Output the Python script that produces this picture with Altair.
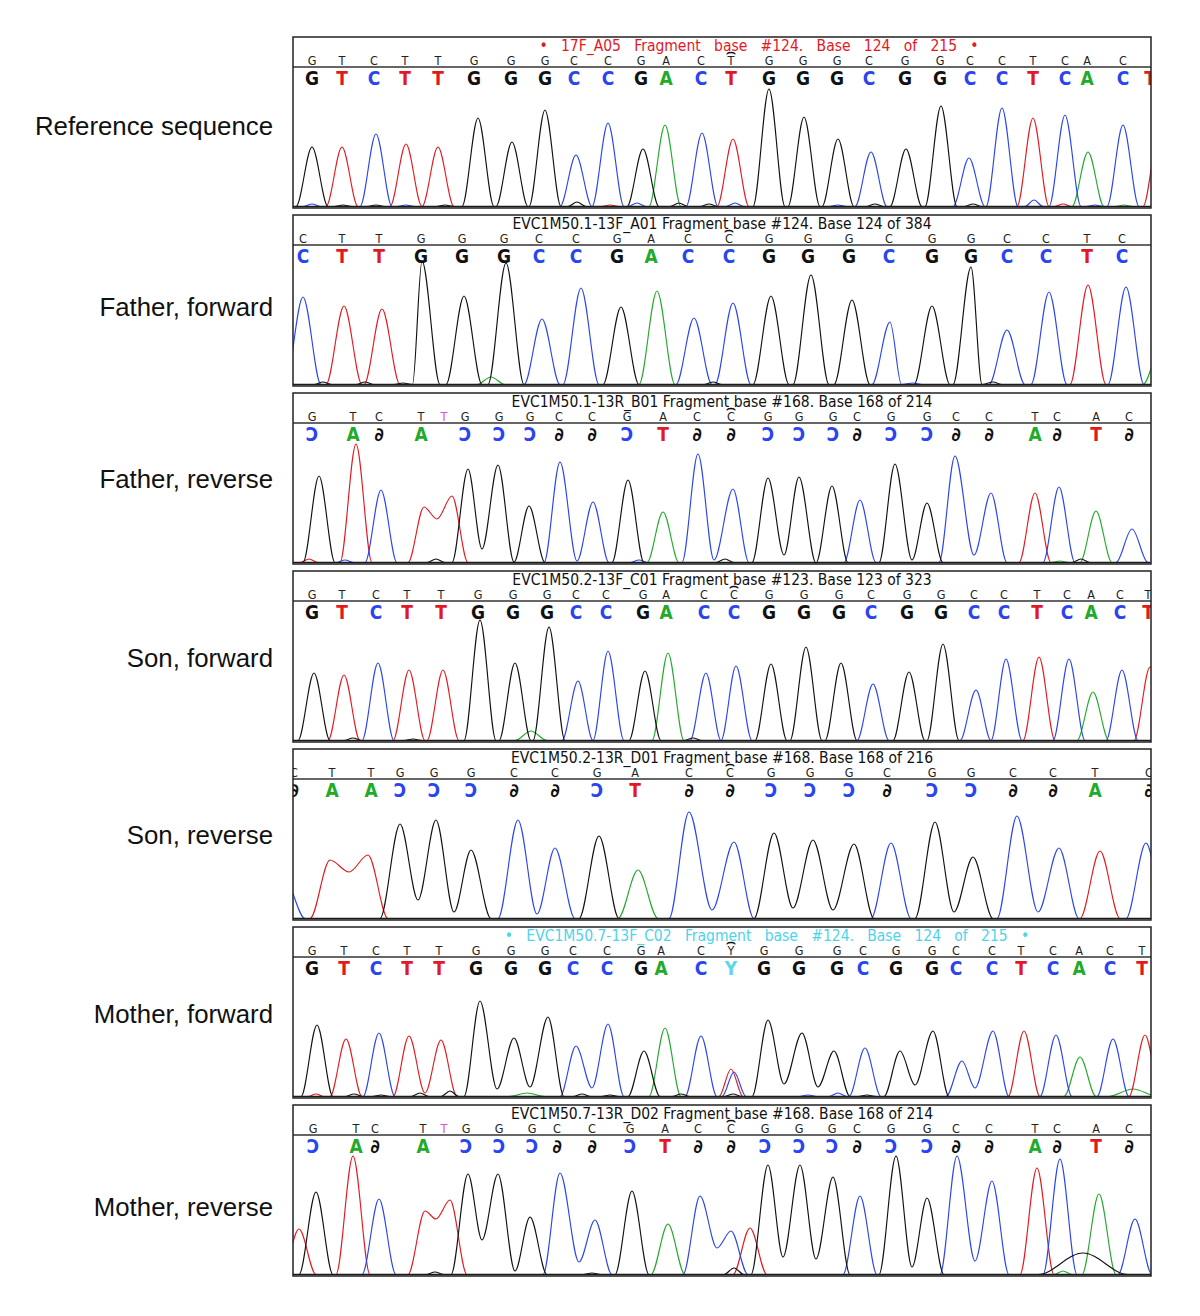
import altair as alt
import pandas as pd

PANEL_W = 858
PANEL_H = 171
LABEL_W = 284
BASE = 1.5

COLORS = {"G": "#111111", "T": "#e3191f", "C": "#2a45ee", "A": "#22aa2a", "Y": "#5cd6ec"}
DRAW_ORDER = "ATCG"
SMALL_COLOR = "#222222"
EDIT_COLOR = "#e648e6"
MIRROR = {"C": "\u0186", "G": "\u2202", "A": "A", "T": "T"}

TXT_FONT = "DejaVu Sans Condensed, Liberation Sans Narrow, DejaVu Sans, sans-serif"
LBL_FONT = "Liberation Sans, Arial, Helvetica, sans-serif"

LABELS = ["Reference sequence", "Father, forward", "Father, reverse", "Son, forward",
          "Son, reverse", "Mother, forward", "Mother, reverse"]
LABEL_Y = [98, 101, 95, 96, 95, 96, 111]

TITLES = [
    "\u2022   17F_A05   Fragment   base   #124.   Base   124   of   215   \u2022",
    "EVC1M50.1-13F_A01 Fragment base #124. Base 124 of 384",
    "EVC1M50.1-13R_B01 Fragment base #168. Base 168 of 214",
    "EVC1M50.2-13F_C01 Fragment base #123. Base 123 of 323",
    "EVC1M50.2-13R_D01 Fragment base #168. Base 168 of 216",
    "\u2022   EVC1M50.7-13F_C02   Fragment   base   #124.   Base   124   of   215   \u2022",
    "EVC1M50.7-13R_D02 Fragment base #168. Base 168 of 214",
]
TITLE_X = [466, 429, 429, 429, 429, 474, 429]
TITLE_COLORS = ["#e3191f", "#111111", "#111111", "#111111", "#111111", "#4fd3ea", "#111111"]

# ---------------- base calls ----------------
P1_X = [19, 49, 81, 112, 145, 181, 218, 252, 281, 315, 348, 373, 408, 438, 476, 510, 544, 576, 612, 647, 677, 709, 740, 772, 794, 830, 857]
P1_SMALL = "GTCTTGGGCCGACTGGGCGGCCTCAC-"
P1_BIG = "GTCTTGGGCCGACTGGGCGGCCTCACT"

P2_X = [10, 49, 86, 128, 169, 211, 246, 283, 324, 358, 395, 436, 476, 515, 556, 596, 639, 678, 714, 753, 794, 829]
P2_SMALL = "CTTGGGCCGACCGGGCGGCCTC"
P2_BIG = "CTTGGGCCGACCGGGCGGCCTC"

P3_X = [19, 60, 86, 128, 151, 172, 206, 237, 266, 299, 334, 370, 404, 438, 475, 506, 540, 564, 598, 634, 663, 696, 742, 764, 803, 836]
P3_SMALL = "GTCTtGGGCCGACCGGGCGGCCTCAC"
P3_BIG = "CAGA-CCCGGCTGGCCCGCCGGAGTG"

P4_X = [19, 49, 83, 114, 148, 185, 220, 254, 283, 313, 350, 373, 411, 441, 476, 511, 546, 578, 614, 648, 681, 711, 744, 774, 798, 827, 855]
P4_SMALL = "GTCTTGGGCCGACCGGGCGGCCTCACT"
P4_BIG = "GTCTTGGGCCGACCGGGCGGCCTCACT"

P5_X = [1, 39, 78, 107, 141, 178, 221, 262, 304, 342, 396, 437, 478, 517, 556, 594, 639, 678, 720, 760, 802, 856]
P5_SMALL = "CTTGGGCCGACCGGGCGGCCTC"
P5_BIG = "GAACCCGGCTGGCCCGCCGGAG"

P6_X = [19, 51, 83, 114, 146, 183, 218, 252, 280, 314, 348, 368, 408, 438, 471, 506, 544, 570, 603, 639, 663, 699, 728, 760, 786, 817, 849]
P6_SMALL = "GTCTTGGGCCGACYGGGCGGCCTCACT"
P6_BIG = "GTCTTGGGCCGACYGGGCGGCCTCACT"

P7_X = [20, 63, 82, 130, 151, 173, 206, 239, 264, 299, 337, 372, 405, 438, 472, 506, 539, 564, 598, 634, 663, 696, 742, 764, 803, 836]
P7_SMALL = "GTCTtGGGCCGACCGGGCGGCCTCAC"
P7_BIG = "CAGA-CCCGGCTGGCCCGCCGGAGTG"

CURSOR = [13, 11, 13, 13, 11, 13, 13]

# ---------------- trace peaks: (channel, x, height[, half-width]) ----------------
P1_PEAKS = [("G", 19, 61), ("T", 49, 61), ("C", 83, 74), ("T", 113, 64), ("T", 145, 61),
            ("G", 185, 90), ("G", 219, 66), ("G", 252, 98), ("C", 283, 53), ("C", 315, 85),
            ("G", 350, 59), ("A", 372, 83), ("C", 409, 75), ("T", 440, 69), ("G", 476, 119),
            ("G", 511, 91), ("G", 545, 69), ("C", 578, 56), ("G", 613, 59), ("G", 648, 102),
            ("C", 676, 50), ("C", 709, 100), ("T", 740, 90), ("C", 772, 93), ("A", 795, 56),
            ("C", 830, 83), ("T", 866, 75),
            ("C", 19, 4, 9), ("G", 50, 3, 9), ("G", 83, 3, 9), ("C", 113, 3, 9), ("G", 152, 3, 9),
            ("G", 284, 6, 9), ("T", 317, 3, 9), ("C", 344, 5, 9), ("G", 386, 5, 9), ("G", 416, 4, 9),
            ("C", 442, 5, 9), ("C", 545, 3, 9), ("G", 582, 4, 9), ("G", 680, 4, 9), ("C", 741, 8, 9),
            ("T", 770, 4, 9), ("C", 802, 3, 9), ("A", 831, 3, 9)]
P1_VALLEYS = []

P2_PEAKS = [("C", 10, 89), ("T", 51, 80), ("T", 89, 77), ("G", 129, 125), ("G", 171, 90),
            ("G", 213, 123), ("C", 249, 67), ("C", 288, 98), ("G", 328, 79), ("A", 364, 95),
            ("C", 401, 68), ("C", 440, 83), ("G", 478, 90), ("G", 518, 111), ("G", 559, 86),
            ("C", 597, 64), ("G", 639, 80), ("G", 678, 119), ("C", 714, 56), ("C", 756, 94),
            ("T", 795, 101), ("C", 833, 99), ("A", 868, 40),
            ("A", 198, 9, 14), ("G", 30, 4, 9), ("G", 72, 4, 9), ("G", 110, 3, 9), ("G", 420, 4, 9),
            ("G", 700, 4, 9), ("C", 620, 3, 9)]
P2_VALLEYS = []

P3_PEAKS = [("G", 26, 88), ("T", 63, 120), ("C", 88, 74), ("T", 131, 57), ("T", 159, 68),
            ("G", 175, 95), ("G", 205, 99), ("G", 236, 58), ("C", 267, 102), ("C", 300, 62),
            ("G", 335, 84), ("A", 370, 52), ("C", 405, 110), ("C", 440, 75), ("G", 475, 86),
            ("G", 506, 87), ("G", 539, 78), ("C", 567, 64), ("G", 602, 100), ("G", 634, 61),
            ("C", 662, 108), ("C", 698, 71), ("T", 742, 71), ("C", 766, 77), ("A", 803, 53),
            ("C", 839, 35),
            ("T", 16, 5, 9), ("C", 52, 4, 9), ("G", 143, 5, 9), ("C", 346, 4, 9), ("G", 432, 5, 9),
            ("G", 788, 5, 9), ("A", 767, 3, 9)]
P3_VALLEYS = [("T", 144, 45), ("G", 189, 15), ("G", 221, 2), ("C", 284, 3), ("C", 421, 4),
              ("G", 491, 9), ("G", 523, 1), ("G", 619, 4), ("C", 681, 9)]

P4_PEAKS = [("G", 21, 69), ("T", 51, 67), ("C", 85, 79), ("T", 116, 72), ("T", 150, 72),
            ("G", 187, 122), ("G", 222, 79), ("G", 256, 115), ("C", 285, 61), ("C", 315, 91),
            ("G", 352, 71), ("A", 375, 89), ("C", 413, 69), ("C", 443, 76), ("G", 478, 78),
            ("G", 513, 95), ("G", 548, 79), ("C", 580, 58), ("G", 616, 70), ("G", 650, 98),
            ("C", 683, 52), ("C", 713, 83), ("T", 746, 85), ("C", 776, 83), ("A", 800, 50),
            ("C", 829, 72), ("T", 857, 75),
            ("A", 238, 11, 16), ("G", 60, 4, 9), ("G", 120, 3, 9), ("G", 400, 4, 9)]
P4_VALLEYS = []

P5_PEAKS = [("C", -8, 40), ("T", 37, 60), ("T", 75, 65), ("G", 107, 96), ("G", 143, 100),
            ("G", 178, 70), ("C", 225, 100), ("C", 262, 72), ("G", 306, 84), ("A", 345, 50),
            ("C", 396, 108), ("C", 441, 78), ("G", 481, 87), ("G", 520, 80), ("G", 561, 76),
            ("C", 598, 77), ("G", 642, 98), ("G", 680, 63), ("C", 724, 104), ("C", 766, 72),
            ("T", 807, 69), ("C", 853, 77)]
P5_VALLEYS = [("T", 56, 48), ("G", 125, 20), ("G", 161, 8), ("C", 244, 6), ("C", 419, 10),
              ("G", 500, 12), ("G", 540, 10), ("G", 661, 8), ("C", 745, 8)]

P6_PEAKS = [("G", 24, 73), ("T", 53, 59), ("C", 86, 65), ("T", 116, 62), ("T", 148, 58),
            ("G", 187, 97), ("G", 221, 60), ("G", 255, 81), ("C", 283, 52), ("C", 315, 74),
            ("G", 351, 47), ("A", 372, 70), ("C", 408, 62), ("T", 438, 29, 12), ("C", 441, 26, 12),
            ("G", 475, 78), ("G", 509, 65), ("G", 541, 47), ("C", 572, 50), ("G", 607, 47),
            ("G", 640, 67), ("C", 669, 37), ("C", 700, 67), ("T", 731, 67), ("C", 763, 63),
            ("A", 787, 41), ("C", 820, 59), ("T", 852, 63),
            ("T", 23, 4, 8), ("G", 61, 4, 9), ("G", 88, 3, 9), ("G", 127, 5, 9), ("G", 157, 7, 9),
            ("A", 234, 5, 18), ("G", 289, 4, 9), ("G", 317, 3, 9), ("G", 388, 4, 9), ("G", 440, 4, 9),
            ("C", 515, 3, 9), ("C", 545, 5, 9), ("G", 574, 3, 9), ("A", 840, 9, 25)]
P6_VALLEYS = [("T", 132, 5), ("G", 204, 9), ("G", 237, 11), ("C", 299, 10), ("G", 491, 14),
              ("G", 525, 11), ("G", 622, 13), ("C", 682, 10)]

P7_PEAKS = [("T", 6, 47), ("G", 23, 84), ("T", 60, 120), ("C", 86, 77), ("T", 132, 65),
            ("T", 157, 76), ("G", 175, 102), ("G", 205, 102), ("G", 237, 59), ("C", 267, 103),
            ("C", 302, 56), ("G", 339, 85), ("A", 375, 52), ("C", 407, 80), ("C", 438, 45),
            ("T", 457, 48), ("G", 475, 111), ("G", 507, 111), ("G", 540, 99), ("C", 567, 80),
            ("G", 603, 120), ("G", 634, 78), ("C", 664, 120), ("C", 699, 95), ("T", 744, 108),
            ("C", 767, 117), ("G", 790, 23, 45), ("A", 806, 82), ("C", 842, 57),
            ("A", 770, 5, 9), ("G", 142, 4, 9), ("G", 299, 3, 9), ("G", 441, 8, 10)]
P7_VALLEYS = [("T", 143, 57), ("G", 189, 36), ("G", 222, 5), ("C", 286, 14), ("C", 424, 28),
              ("G", 490, 19), ("G", 523, 17), ("G", 619, 9), ("C", 682, 15)]

HALF_W = [16, 18, 16, 16, 20, 16, 17]

PANELS = [
    (P1_PEAKS, P1_VALLEYS, P1_X, P1_SMALL, P1_BIG, False),
    (P2_PEAKS, P2_VALLEYS, P2_X, P2_SMALL, P2_BIG, False),
    (P3_PEAKS, P3_VALLEYS, P3_X, P3_SMALL, P3_BIG, True),
    (P4_PEAKS, P4_VALLEYS, P4_X, P4_SMALL, P4_BIG, False),
    (P5_PEAKS, P5_VALLEYS, P5_X, P5_SMALL, P5_BIG, True),
    (P6_PEAKS, P6_VALLEYS, P6_X, P6_SMALL, P6_BIG, False),
    (P7_PEAKS, P7_VALLEYS, P7_X, P7_SMALL, P7_BIG, True),
]


def build_trace(peaks, valleys, w):
    rows = []
    for k, ch in enumerate(DRAW_ORDER):
        ev = [(p[1], p[2], "p", p[3] if len(p) > 3 else w) for p in peaks if p[0] == ch]
        ev += [(v[1], v[2], "v", 0) for v in valleys if v[0] == ch]
        ev.sort(key=lambda e: e[0])
        pts = [(-40.0, BASE), (PANEL_W + 40.0, BASE)]
        for i, (x, y, kind, pw) in enumerate(ev):
            if kind == "v":
                pts.append((x, y))
                continue
            prev = ev[i - 1] if i > 0 else None
            nxt = ev[i + 1] if i + 1 < len(ev) else None
            if prev is None or (prev[2] == "p" and x - prev[0] >= pw + prev[3]):
                pts.append((x - pw, BASE))
            pts.append((x, y))
            if nxt is None or nxt[2] == "p":
                if nxt is not None and nxt[0] - x < pw + nxt[3]:
                    pts.append(((x + nxt[0]) / 2.0, BASE))
                else:
                    pts.append((x + pw, BASE))
        pts.sort()
        clean = []
        for x, y in pts:
            if clean and abs(x - clean[-1][0]) < 1e-6:
                continue
            clean.append((x, y))
        rows += [{"x": x, "y": y, "ord": k} for x, y in clean]
    return pd.DataFrame(rows)


ONE = pd.DataFrame({"k": [0]})


def make_panel(i):
    peaks, valleys, xs_list, small, big, mirrored = PANELS[i]
    xs = alt.Scale(domain=[0, PANEL_W], nice=False, zero=False)
    ys = alt.Scale(domain=[0, PANEL_H], nice=False, zero=False)
    X = alt.X("x:Q", scale=xs, axis=None)

    tdf = build_trace(peaks, valleys, HALF_W[i])
    layers = []
    for k, ch in enumerate(DRAW_ORDER):
        layers.append(
            alt.Chart(tdf[tdf["ord"] == k]).mark_line(
                interpolate="monotone", strokeWidth=1.15, clip=True, color=COLORS[ch]
            ).encode(x=X, y=alt.Y("y:Q", scale=ys, axis=None))
        )

    baseline = alt.Chart(ONE).mark_rule(color="#1a1a1a", strokeWidth=1.6).encode(
        x=alt.value(0), x2=alt.value(PANEL_W), y=alt.value(PANEL_H - BASE))

    srows = [{"x": xs_list[j], "t": c.upper(), "col": EDIT_COLOR if c.islower() else SMALL_COLOR}
             for j, c in enumerate(small) if c != "-"]
    small_l = alt.Chart(pd.DataFrame(srows)).mark_text(
        font=TXT_FONT, fontSize=12.5, baseline="middle", clip=True
    ).encode(x=X, y=alt.value(23.5), text="t:N", color=alt.Color("col:N", scale=None))

    brows = [{"x": xs_list[j], "t": (MIRROR[c] if mirrored else c), "col": COLORS[c]}
             for j, c in enumerate(big) if c != "-"]
    big_l = alt.Chart(pd.DataFrame(brows)).mark_text(
        font=TXT_FONT, fontSize=19, fontWeight="bold", baseline="middle", clip=True
    ).encode(x=X, y=alt.value(42), text="t:N", color=alt.Color("col:N", scale=None))

    cur = alt.Chart(pd.DataFrame({"x": [xs_list[CURSOR[i]]], "t": ["\u2322"]})).mark_text(
        font="DejaVu Sans", fontSize=15, fontWeight="bold", baseline="middle", color="#111111"
    ).encode(x=X, y=alt.value(15), text="t:N")

    title = alt.Chart(pd.DataFrame({"t": [TITLES[i].replace(" ", "\u00a0")]})).mark_text(
        font=TXT_FONT, fontSize=15.5, baseline="middle", color=TITLE_COLORS[i]
    ).encode(x=alt.value(TITLE_X[i]), y=alt.value(9), text="t:N")

    sep = alt.Chart(ONE).mark_rule(color="#333333", strokeWidth=1.5).encode(
        x=alt.value(0), x2=alt.value(PANEL_W), y=alt.value(30))

    frame = alt.Chart(ONE).mark_rect(fillOpacity=0, stroke="#222222", strokeWidth=1.5).encode(
        x=alt.value(0), x2=alt.value(PANEL_W), y=alt.value(0), y2=alt.value(PANEL_H))

    return alt.layer(*layers, baseline, small_l, big_l, cur, title, sep, frame).properties(
        width=PANEL_W, height=PANEL_H)


def make_label(i):
    return alt.Chart(pd.DataFrame({"t": [LABELS[i]]})).mark_text(
        font=LBL_FONT, fontSize=25.8, align="right", baseline="alphabetic", color="#111111"
    ).encode(x=alt.value(LABEL_W - 19), y=alt.value(LABEL_Y[i]), text="t:N").properties(
        width=LABEL_W, height=PANEL_H)


rows = [alt.hconcat(make_label(i), make_panel(i), spacing=0) for i in range(7)]
chart = alt.vconcat(*rows, spacing=5).properties(
    padding={"left": 0, "top": 28, "right": 0, "bottom": 0}
).configure_view(strokeWidth=0)

chart.save("out.html", embed_options={"renderer": "svg", "actions": False})
